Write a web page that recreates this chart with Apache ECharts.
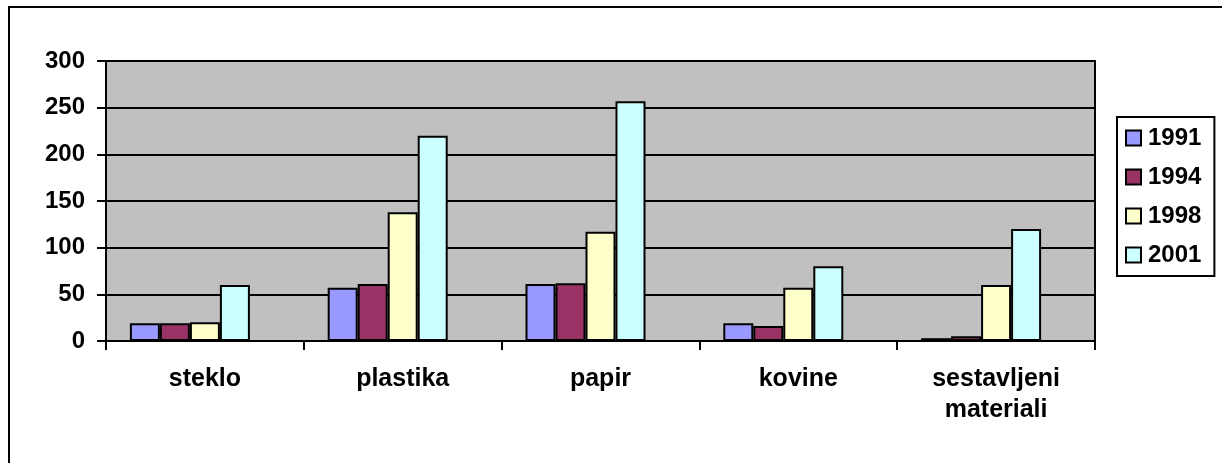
<!DOCTYPE html>
<html>
<head>
<meta charset="utf-8">
<script src="https://cdn.jsdelivr.net/npm/echarts@6/dist/echarts.min.js"></script>
<style>
html,body{margin:0;padding:0;background:#fff;}
#chart{width:1222px;height:463px;}
</style>
</head>
<body>
<div id="chart"></div>
<script>
const categories = ['steklo', 'plastika', 'papir', 'kovine', 'sestavljeni\nmateriali'];
const seriesNames = ['1991', '1994', '1998', '2001'];
const values1991 = [19, 57, 61, 19, 3];
const values1994 = [19, 61, 62, 16, 5];
const values1998 = [20, 138, 117, 57, 60];
const values2001 = [60, 220, 257, 80, 120];
const yTicks = [0, 50, 100, 150, 200, 250, 300];

const colors = ['#9999FF', '#993366', '#FFFFCC', '#CCFFFF'];
const allValues = [values1991, values1994, values1998, values2001];
const font = '"Liberation Sans", Arial, sans-serif';

const series = allValues.map((vals, i) => ({
  name: seriesNames[i],
  type: 'bar',
  data: vals,
  barWidth: 30,
  barGap: '0%',
  itemStyle: { color: colors[i], borderColor: '#000', borderWidth: 2 }
}));
// empty placeholder series (as in the original spreadsheet layout)
series.push({
  name: '_empty',
  type: 'bar',
  data: categories.map(() => null),
  barWidth: 30,
  barGap: '0%',
  itemStyle: { color: 'transparent' }
});

const chart = echarts.init(document.getElementById('chart'), null, { renderer: 'canvas' });
chart.setOption({
  animation: false,
  backgroundColor: '#fff',
  graphic: [{
    type: 'rect',
    shape: { x: 9, y: 7, width: 2000, height: 2000 },
    style: { fill: 'none', stroke: '#000', lineWidth: 2 },
    silent: true
  }],
  grid: {
    left: 106, top: 61, right: 127, bottom: 122,
    show: true, backgroundColor: '#C0C0C0', borderColor: '#000', borderWidth: 2
  },
  legend: {
    data: seriesNames,
    orient: 'vertical',
    left: 1117, top: 117,
    itemWidth: 15, itemHeight: 15, itemGap: 15,
    padding: [9, 13, 9, 8],
    borderColor: '#000', borderWidth: 2,
    icon: 'rect',
    textStyle: { fontFamily: font, fontWeight: 'bold', fontSize: 24, color: '#000', lineHeight: 24, padding: [0, 0, 0, 2] }
  },
  xAxis: {
    type: 'category',
    data: categories,
    axisLine: { lineStyle: { color: '#000', width: 2 } },
    axisTick: { show: true, length: 9, lineStyle: { color: '#000', width: 2 } },
    axisLabel: { fontFamily: font, fontWeight: 'bold', fontSize: 25, color: '#000', lineHeight: 31, margin: 23, interval: 0 }
  },
  yAxis: {
    type: 'value',
    min: yTicks[0], max: yTicks[yTicks.length - 1], interval: 50,
    axisLine: { show: true, lineStyle: { color: '#000', width: 2 } },
    axisTick: { show: true, length: 9, lineStyle: { color: '#000', width: 2 } },
    splitLine: { show: true, lineStyle: { color: '#000', width: 2 } },
    axisLabel: { fontFamily: font, fontWeight: 'bold', fontSize: 24, color: '#000', margin: 21 }
  },
  series: series
});
</script>
</body>
</html>
